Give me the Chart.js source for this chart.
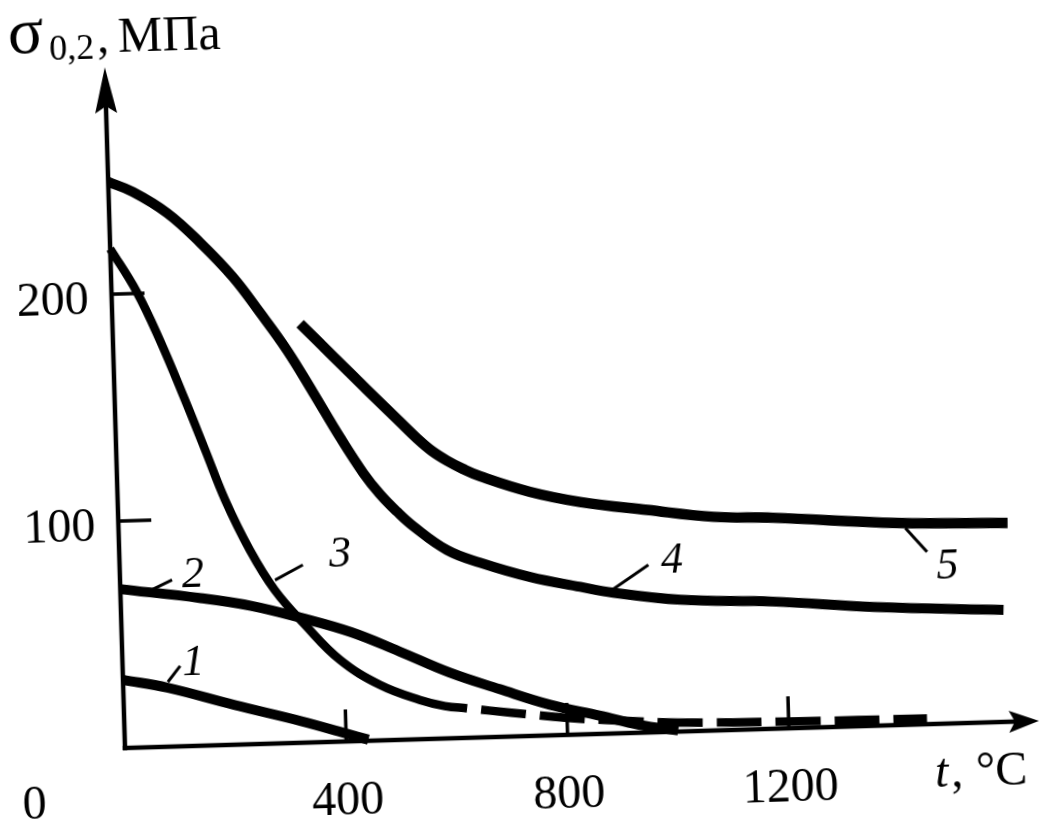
<!DOCTYPE html>
<html><head><meta charset="utf-8">
<script src="https://cdn.jsdelivr.net/npm/chart.js@4.4.1/dist/chart.umd.min.js"></script>
<style>
html,body{margin:0;padding:0;background:#fff;overflow:hidden;width:1044px;height:820px;}
#wrap{position:absolute;left:0;top:0;width:1080px;height:860px;transform-origin:125px 748px;transform:rotate(-1.7deg);}
canvas{display:block;}
</style></head><body>
<div id="wrap"><canvas id="c" width="1080" height="860"></canvas></div>
<script>
// ---- data (t in °C, sigma in MPa) ----
const curveNames = ['1', '2', '3', '4', '5'];
const curve1T = [0, 80, 200, 320, 400, 440];
const curve1S = [30, 26, 17.5, 9.5, 3.5, 0.5];
const curve2T = [0, 145, 235, 325, 415, 500, 590, 680, 770, 860, 930, 1000];
const curve2S = [70, 65, 61, 55, 48, 39, 29, 21, 13.5, 8, 3.5, 0.5];
const curve3T = [0, 45, 85, 127, 161, 194, 236, 279, 332, 393, 464, 535, 580, 620, 700, 800, 900, 1000, 1200, 1450];
const curve3S = [220, 201, 179, 152.5, 130, 108, 85.6, 67.6, 51.8, 36, 24.4, 17.3, 14.3, 13, 10.5, 7.5, 5.5, 4, 3, 2.5];
const curve3DashedFrom = 620;
const curve4T = [0, 44, 105, 163, 220, 267, 314, 359, 405, 445, 474, 504, 532, 592, 651, 741, 831, 890, 1011, 1178, 1359, 1594];
const curve4S = [249.5, 244.8, 235, 221.5, 206, 190, 173, 154, 134, 118, 108.5, 100.5, 94, 83, 77, 70, 65, 62, 58, 56, 52.3, 49.3];
const curve5T = [339, 397, 457, 514, 544, 570, 597, 625, 656, 745, 835, 956, 1075, 1183, 1407, 1606];
const curve5S = [184.5, 169.7, 154.4, 140, 132.5, 126.8, 122.3, 118.5, 115, 107.5, 102.4, 98, 94.1, 92.9, 89, 87.6];
const xTickValues = [400, 800, 1200];
const xTickLabels = ['400', '800', '1200'];
const yTickValues = [100, 200];
const yTickLabels = ['100', '200'];
const xOriginLabel = '0';
const yAxisTitle = ['σ', '0,2', ',', 'МПа'];
const xAxisTitle = ['t', ',', '°C'];
const xAxisEnd = 1652;
const yAxisEnd = 300;
// curve number labels: anchor (t, sigma) and leader line ends
const labelT = [128, 132, 399, 998, 1495];
const labelS = [37.9, 76.6, 83.5, 76.6, 70.3];
const leaderT0 = [81, 57, 280, 888, 1421];
const leaderS0 = [28.5, 69.3, 72, 63.2, 86.7];
const leaderT1 = [104, 94, 331, 955, 1459];
const leaderS1 = [35.4, 73.4, 78.3, 73.8, 75.9];

const pts = (T, S) => T.map((t, i) => ({x: t, y: S[i]}));
const SERIF = '"Liberation Serif", "Times New Roman", serif';

const axesPlugin = {
  id: 'axesDraw',
  beforeDatasetsDraw(chart) {
    const {ctx, scales: {x, y}} = chart;
    const x0 = x.getPixelForValue(0), y0 = y.getPixelForValue(0);
    const xe = x.getPixelForValue(xAxisEnd), ye = y.getPixelForValue(yAxisEnd);
    ctx.save();
    ctx.strokeStyle = '#000'; ctx.fillStyle = '#000';
    ctx.lineWidth = 4.5; ctx.lineCap = 'square';
    ctx.beginPath(); ctx.moveTo(x0, y0); ctx.lineTo(x0, ye + 30); ctx.stroke();
    ctx.beginPath(); ctx.moveTo(x0, y0); ctx.lineTo(xe - 15, y0); ctx.stroke();
    // arrows
    ctx.beginPath(); ctx.moveTo(x0, ye); ctx.lineTo(x0 - 11, ye + 46); ctx.lineTo(x0, ye + 39); ctx.lineTo(x0 + 11, ye + 46); ctx.closePath(); ctx.fill();
    ctx.beginPath(); ctx.moveTo(xe, y0); ctx.lineTo(xe - 30, y0 - 11); ctx.lineTo(xe - 24, y0); ctx.lineTo(xe - 30, y0 + 11); ctx.closePath(); ctx.fill();
    // ticks
    ctx.lineWidth = 3.5; ctx.lineCap = 'butt';
    xTickValues.forEach(v => { const px = x.getPixelForValue(v); ctx.beginPath(); ctx.moveTo(px, y0); ctx.lineTo(px, y0 - 32); ctx.stroke(); });
    yTickValues.forEach(v => { const py = y.getPixelForValue(v); ctx.beginPath(); ctx.moveTo(x0, py); ctx.lineTo(x0 + 33, py); ctx.stroke(); });
    // tick labels
    ctx.font = '48px ' + SERIF; ctx.textBaseline = 'alphabetic';
    ctx.textAlign = 'center';
    xTickValues.forEach((v, i) => ctx.fillText(xTickLabels[i], x.getPixelForValue(v), y0 + 73));
    ctx.fillText(xOriginLabel, x0 - 92, y0 + 68);
    ctx.textAlign = 'right';
    yTickValues.forEach((v, i) => ctx.fillText(yTickLabels[i], x0 - 23, y.getPixelForValue(v) + 19));
    // x-axis title
    ctx.textAlign = 'left';
    ctx.font = 'italic 48px ' + SERIF; ctx.fillText(xAxisTitle[0], x0 + 809, y0 + 63);
    ctx.font = '48px ' + SERIF; ctx.fillText(xAxisTitle[1], x0 + 825, y0 + 63);
    ctx.fillText(xAxisTitle[2], x0 + 850, y0 + 63);
    // y-axis title
    ctx.font = '66px ' + SERIF; ctx.fillText(yAxisTitle[0], 29, 50);
    ctx.font = '36px ' + SERIF; ctx.fillText(yAxisTitle[1], 70, 58);
    ctx.font = '48px ' + SERIF; ctx.fillText(yAxisTitle[2], 118, 52);
    ctx.font = '50px ' + SERIF; ctx.fillText(yAxisTitle[3], 139, 52);
    // curve labels with leaders
    ctx.lineWidth = 3;
    curveNames.forEach((n, i) => {
      ctx.beginPath();
      ctx.moveTo(x.getPixelForValue(leaderT0[i]), y.getPixelForValue(leaderS0[i]));
      ctx.lineTo(x.getPixelForValue(leaderT1[i]), y.getPixelForValue(leaderS1[i]));
      ctx.stroke();
      ctx.font = 'italic 44px ' + SERIF; ctx.textAlign = 'center';
      ctx.fillText(n, x.getPixelForValue(labelT[i]), y.getPixelForValue(labelS[i]) + 15);
    });
    ctx.restore();
  }
};

const base = {borderColor: '#000', backgroundColor: '#000', pointRadius: 0, fill: false, tension: 0.4, clip: false, borderCapStyle: 'butt', borderJoinStyle: 'round'};
new Chart(document.getElementById('c'), {
  type: 'line',
  data: {
    datasets: [
      Object.assign({}, base, {label: curveNames[0], data: pts(curve1T, curve1S), borderWidth: 10}),
      Object.assign({}, base, {label: curveNames[1], data: pts(curve2T, curve2S), borderWidth: 10}),
      Object.assign({}, base, {label: curveNames[2], data: pts(curve3T, curve3S), borderWidth: 8.5,
        segment: {
          borderDash: c => c.p0.parsed.x >= curve3DashedFrom ? [45, 14] : undefined,
          borderDashOffset: c => c.p0.parsed.x >= curve3DashedFrom ? 45 : undefined
        }}),
      Object.assign({}, base, {label: curveNames[3], data: pts(curve4T, curve4S), borderWidth: 10}),
      Object.assign({}, base, {label: curveNames[4], data: pts(curve5T, curve5S), borderWidth: 10.5})
    ]
  },
  options: {
    responsive: false, animation: false, devicePixelRatio: 1,
    layout: {padding: {left: 125, top: 67, right: 39, bottom: 112}},
    scales: {
      x: {type: 'linear', min: 0, max: 1655, display: false},
      y: {type: 'linear', min: 0, max: 300, display: false}
    },
    plugins: {legend: {display: false}, tooltip: {enabled: false}}
  },
  plugins: [axesPlugin]
});
</script>
</body></html>
